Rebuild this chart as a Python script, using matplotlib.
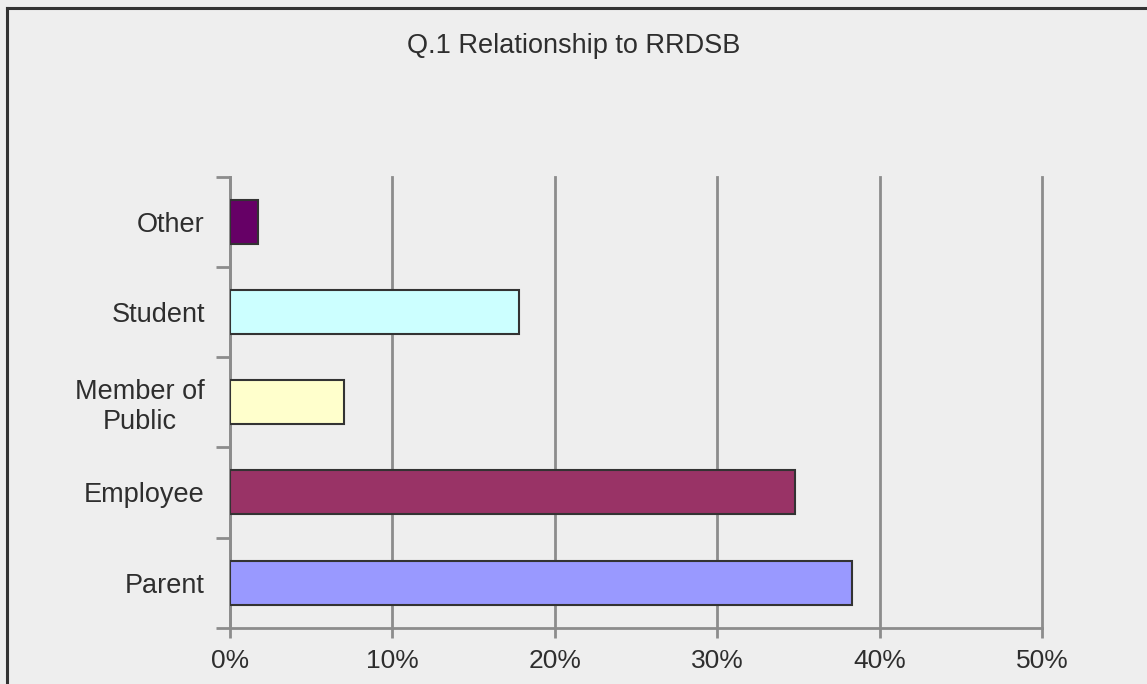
import matplotlib
matplotlib.use("Agg")
import matplotlib.pyplot as plt
from matplotlib.lines import Line2D
from matplotlib.ticker import FixedLocator

# Survey answers, bottom to top
categories = ["Parent", "Employee", "Member of\nPublic", "Student", "Other"]
shares = [38.3, 34.8, 7.0, 17.8, 1.7]
bar_colors = ["#9999FF", "#993366", "#FFFFCC", "#CCFFFF", "#660066"]
x_ticks = [0, 10, 20, 30, 40, 50]
x_labels = ["0%", "10%", "20%", "30%", "40%", "50%"]
title = "Q.1 Relationship to RRDSB"

BG = "#EEEEEE"
TEXT = "#2E2E2E"
GRID = "#8C8C8C"

plt.rcParams["font.family"] = ["Liberation Sans", "DejaVu Sans"]

fig = plt.figure(figsize=(11.47, 6.84), dpi=100, facecolor=BG)
ax = fig.add_axes([0.2005, 0.0823, 0.708, 0.6594], facecolor=BG)

ypos = list(range(len(categories)))
ax.barh(ypos, shares, height=0.49, color=bar_colors,
        edgecolor="#333333", linewidth=1.5, zorder=3)

ax.set_xlim(0, 50)
ax.set_ylim(-0.5, len(categories) - 0.5)

ax.set_xticks(x_ticks)
ax.set_xticklabels(x_labels, fontsize=19, color=TEXT)
ax.tick_params(axis="x", length=7, width=2, color=GRID, pad=8)

ax.set_yticks(ypos)
ax.set_yticklabels(categories, fontsize=19.5, color=TEXT,
                   multialignment="center", linespacing=1.2)
ax.tick_params(axis="y", which="major", length=0, pad=18)
ax.yaxis.set_minor_locator(FixedLocator([i - 0.5 for i in range(len(categories) + 1)]))
ax.tick_params(axis="y", which="minor", length=10, width=2, color=GRID)

ax.xaxis.grid(True, color=GRID, linewidth=2, zorder=0)
for gl in ax.get_xgridlines():
    gl.set_clip_on(False)
ax.set_axisbelow(True)

for side in ("top", "right"):
    ax.spines[side].set_visible(False)
for side in ("left", "bottom"):
    ax.spines[side].set_color(GRID)
    ax.spines[side].set_linewidth(2)

fig.text(0.5, 1 - 46 / 684, title, ha="center", va="center",
         fontsize=19.5, color=TEXT)

# Frame lines along left and top edges
W, H = 1147, 684
fig.add_artist(Line2D([7.5 / W, 7.5 / W], [0, 1 - 8 / H],
                      transform=fig.transFigure, color="#333333", linewidth=2.2))
fig.add_artist(Line2D([7.5 / W, 1], [1 - 8 / H, 1 - 8 / H],
                      transform=fig.transFigure, color="#333333", linewidth=2.2))

fig.savefig("out.png", dpi=100, facecolor=BG)
